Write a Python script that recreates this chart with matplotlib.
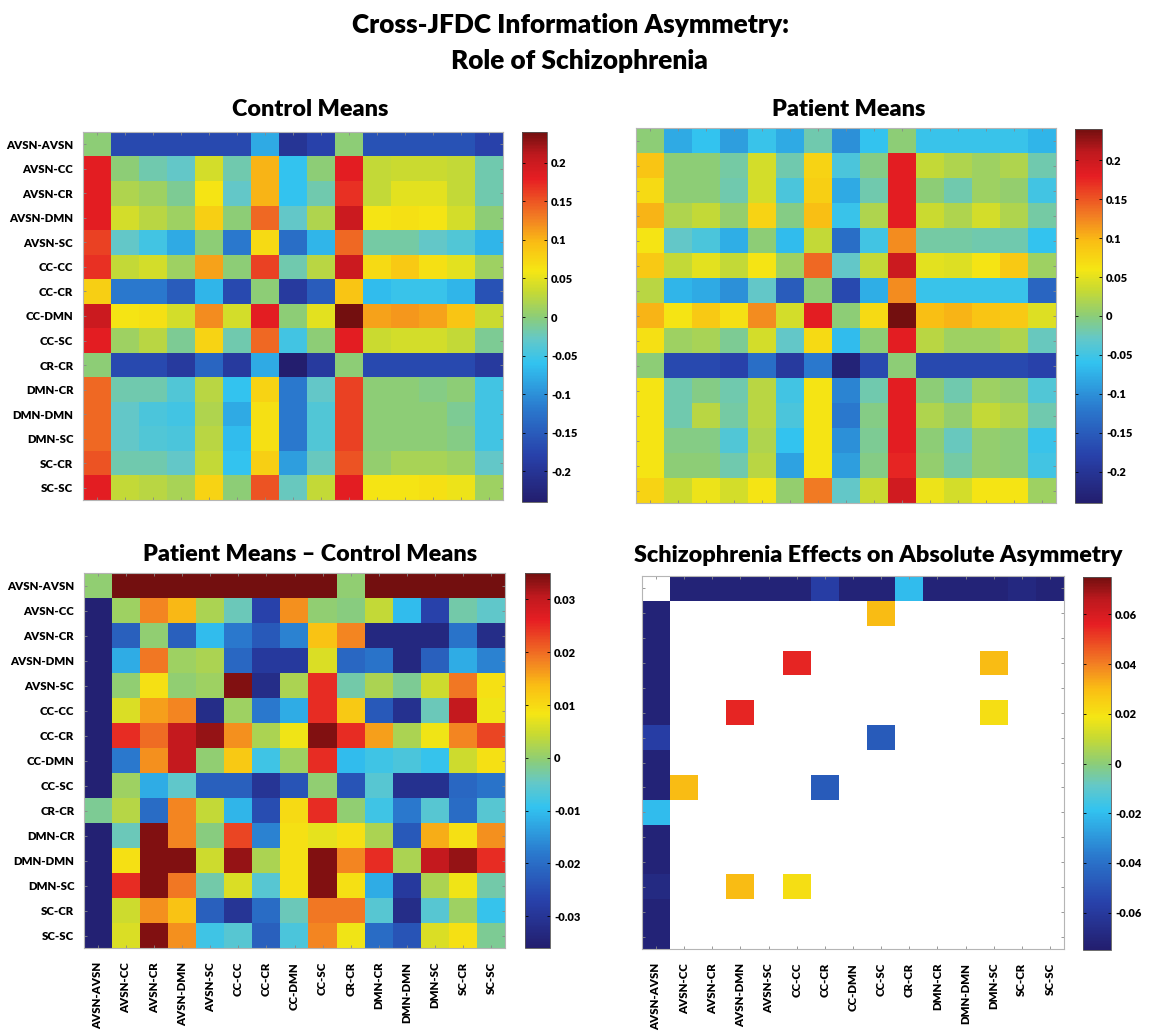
import numpy as np
import matplotlib
matplotlib.use("Agg")
import matplotlib.pyplot as plt
from matplotlib.colors import LinearSegmentedColormap

# ---------------- data ----------------
labels = ["AVSN-AVSN", "AVSN-CC", "AVSN-CR", "AVSN-DMN", "AVSN-SC", "CC-CC", "CC-CR",
          "CC-DMN", "CC-SC", "CR-CR", "DMN-CR", "DMN-DMN", "DMN-SC", "SC-CR", "SC-SC"]

control_means = [
    [0.0, -0.17, -0.17, -0.17, -0.17, -0.17, -0.08, -0.20, -0.18, 0.0, -0.16, -0.16, -0.16, -0.16, -0.18],
    [0.18, 0.0, -0.02, -0.03, 0.04, -0.02, 0.10, -0.06, 0.0, 0.18, 0.03, 0.035, 0.035, 0.03, -0.02],
    [0.18, 0.02, 0.01, -0.01, 0.06, -0.03, 0.10, -0.06, -0.02, 0.17, 0.03, 0.05, 0.05, 0.03, -0.02],
    [0.18, 0.04, 0.025, 0.01, 0.08, 0.0, 0.14, -0.03, 0.02, 0.20, 0.06, 0.065, 0.06, 0.04, 0.0],
    [0.16, -0.03, -0.05, -0.08, 0.0, -0.12, 0.07, -0.13, -0.07, 0.14, -0.015, -0.015, -0.03, -0.04, -0.07],
    [0.17, 0.03, 0.04, 0.01, 0.11, 0.0, 0.16, -0.02, 0.025, 0.20, 0.07, 0.085, 0.065, 0.05, 0.01],
    [0.08, -0.12, -0.12, -0.15, -0.07, -0.17, 0.0, -0.19, -0.15, 0.09, -0.065, -0.055, -0.055, -0.07, -0.16],
    [0.20, 0.06, 0.065, 0.04, 0.12, 0.04, 0.18, 0.0, 0.05, 0.24, 0.11, 0.115, 0.11, 0.09, 0.035],
    [0.18, 0.01, 0.025, -0.01, 0.075, -0.02, 0.14, -0.05, 0.0, 0.18, 0.035, 0.04, 0.04, 0.03, -0.01],
    [0.0, -0.17, -0.17, -0.19, -0.14, -0.19, -0.08, -0.24, -0.19, 0.0, -0.17, -0.17, -0.17, -0.17, -0.19],
    [0.14, -0.02, -0.02, -0.04, 0.025, -0.06, 0.075, -0.12, -0.03, 0.16, 0.0, 0.0, -0.005, 0.0, -0.05],
    [0.14, -0.03, -0.045, -0.05, 0.02, -0.08, 0.065, -0.12, -0.04, 0.16, 0.0, 0.0, 0.0, -0.01, -0.05],
    [0.14, -0.03, -0.04, -0.045, 0.025, -0.065, 0.065, -0.12, -0.04, 0.16, 0.0, 0.0, 0.0, -0.005, -0.05],
    [0.15, -0.02, -0.02, -0.03, 0.03, -0.06, 0.08, -0.09, -0.025, 0.15, 0.005, 0.015, 0.015, 0.01, -0.03],
    [0.18, 0.03, 0.025, 0.015, 0.075, 0.0, 0.15, -0.025, 0.03, 0.18, 0.06, 0.06, 0.065, 0.055, 0.01],
]

patient_means = [
    [0.0, -0.08, -0.06, -0.09, -0.055, -0.08, -0.02, -0.10, -0.06, 0.0, -0.055, -0.055, -0.055, -0.055, -0.07],
    [0.09, 0.0, 0.0, -0.015, 0.04, -0.02, 0.075, -0.045, -0.005, 0.18, 0.03, 0.02, 0.01, 0.02, -0.02],
    [0.07, 0.0, 0.0, -0.02, 0.04, -0.045, 0.08, -0.08, -0.02, 0.18, 0.0, -0.02, 0.01, 0.005, -0.05],
    [0.10, 0.02, 0.03, 0.005, 0.075, -0.005, 0.095, -0.055, 0.02, 0.18, 0.035, 0.02, 0.04, 0.02, -0.015],
    [0.06, -0.03, -0.045, -0.075, 0.0, -0.065, 0.03, -0.13, -0.05, 0.12, -0.015, -0.015, -0.02, -0.02, -0.06],
    [0.085, 0.03, 0.05, 0.03, 0.06, 0.01, 0.14, -0.03, 0.03, 0.20, 0.05, 0.045, 0.06, 0.085, 0.01],
    [0.025, -0.07, -0.08, -0.10, -0.03, -0.15, 0.0, -0.17, -0.075, 0.12, -0.055, -0.055, -0.055, -0.055, -0.14],
    [0.10, 0.06, 0.085, 0.065, 0.12, 0.04, 0.18, 0.0, 0.07, 0.24, 0.095, 0.10, 0.09, 0.085, 0.045],
    [0.065, 0.01, 0.015, -0.01, 0.04, -0.03, 0.07, -0.065, 0.0, 0.18, 0.025, 0.01, 0.01, 0.02, -0.025],
    [0.0, -0.17, -0.17, -0.18, -0.13, -0.19, -0.12, -0.23, -0.17, 0.0, -0.17, -0.17, -0.17, -0.17, -0.18],
    [0.06, -0.02, -0.005, -0.02, 0.025, -0.05, 0.06, -0.11, -0.02, 0.18, 0.0, -0.02, 0.01, 0.005, -0.04],
    [0.06, -0.02, 0.025, -0.015, 0.025, -0.045, 0.06, -0.12, -0.005, 0.18, 0.02, 0.005, 0.03, 0.02, -0.02],
    [0.06, -0.005, -0.005, -0.04, 0.02, -0.06, 0.06, -0.10, -0.01, 0.18, 0.0, -0.025, 0.005, 0.0, -0.055],
    [0.06, 0.0, 0.0, -0.02, 0.025, -0.085, 0.06, -0.09, -0.005, 0.175, 0.005, -0.015, 0.005, 0.0, -0.05],
    [0.075, 0.035, 0.055, 0.04, 0.06, 0.005, 0.13, -0.03, 0.035, 0.195, 0.055, 0.04, 0.06, 0.06, 0.01],
]

diff_means = [
    [0.0, 0.035, 0.035, 0.035, 0.035, 0.035, 0.035, 0.035, 0.035, 0.0, 0.035, 0.035, 0.035, 0.035, 0.035],
    [-0.035, 0.001, 0.018, 0.014, 0.002, -0.004, -0.027, 0.017, 0.0, -0.001, 0.004, -0.01, -0.027, -0.003, -0.005],
    [-0.035, -0.022, 0.0, -0.022, -0.01, -0.018, -0.023, -0.017, 0.013, 0.018, -0.033, -0.033, -0.033, -0.019, -0.032],
    [-0.035, -0.012, 0.019, 0.001, 0.002, -0.021, -0.029, -0.029, 0.006, -0.021, -0.019, -0.033, -0.022, -0.012, -0.017],
    [-0.035, 0.0, 0.009, 0.0, 0.001, 0.034, -0.032, 0.002, 0.025, -0.003, 0.002, -0.002, 0.005, 0.019, 0.009],
    [-0.035, 0.006, 0.016, 0.018, -0.032, 0.001, -0.018, -0.012, 0.025, 0.012, -0.023, -0.031, -0.004, 0.03, 0.008],
    [-0.035, 0.025, 0.02, 0.03, 0.033, 0.017, 0.002, 0.008, 0.034, 0.025, 0.016, 0.002, 0.008, 0.018, 0.023],
    [-0.035, -0.018, 0.017, 0.03, 0.0, 0.012, -0.008, 0.001, 0.025, -0.01, -0.008, -0.007, -0.009, 0.005, 0.009],
    [-0.035, 0.001, -0.012, -0.005, -0.022, -0.022, -0.03, -0.024, 0.0, -0.024, -0.006, -0.031, -0.031, -0.021, -0.019],
    [-0.002, 0.003, -0.02, 0.018, 0.004, -0.011, -0.025, 0.01, 0.025, 0.0, -0.008, -0.018, -0.006, -0.02, -0.006],
    [-0.035, -0.004, 0.034, 0.018, -0.001, 0.023, -0.017, 0.009, 0.007, 0.009, 0.002, -0.023, 0.015, 0.009, 0.017],
    [-0.035, 0.009, 0.034, 0.034, 0.005, 0.033, 0.002, 0.009, 0.034, 0.018, 0.025, 0.002, 0.03, 0.033, 0.025],
    [-0.035, 0.025, 0.034, 0.019, -0.003, 0.006, -0.006, 0.009, 0.034, 0.009, -0.012, -0.029, 0.002, 0.008, -0.003],
    [-0.035, 0.005, 0.017, 0.013, -0.022, -0.03, -0.02, -0.004, 0.019, 0.019, -0.006, -0.032, -0.006, 0.001, -0.009],
    [-0.035, 0.006, 0.034, 0.017, -0.008, -0.006, -0.022, -0.007, 0.018, 0.008, -0.02, -0.024, 0.006, 0.009, -0.002],
]

# Schizophrenia effects: only significant cells are shown (others blank)
effects_row0 = [-0.072, -0.072, -0.072, -0.072, -0.072, -0.058, -0.072, -0.072, -0.02,
                -0.072, -0.072, -0.072, -0.069, -0.072]          # AVSN-AVSN row, columns 1..14
effects_col0 = [-0.072, -0.072, -0.072, -0.072, -0.072, -0.058, -0.072, -0.072, -0.02,
                -0.072, -0.072, -0.068, -0.072, -0.072]          # AVSN-AVSN column, rows 1..14
effects_rows = [1, 3, 3, 5, 5, 6, 8, 8, 12, 12]
effects_cols = [8, 5, 12, 3, 12, 8, 1, 6, 3, 5]
effects_vals = [0.03, 0.055, 0.03, 0.055, 0.021, -0.047, 0.03, -0.047, 0.03, 0.021]

cb_ticks_means = [0.2, 0.15, 0.1, 0.05, 0.0, -0.05, -0.1, -0.15, -0.2]
cb_labels_means = ["0.2", "0.15", "0.1", "0.05", "0", "-0.05", "-0.1", "-0.15", "-0.2"]
cb_ticks_diff = [0.03, 0.02, 0.01, 0.0, -0.01, -0.02, -0.03]
cb_labels_diff = ["0.03", "0.02", "0.01", "0", "-0.01", "-0.02", "-0.03"]
cb_ticks_eff = [0.06, 0.04, 0.02, 0.0, -0.02, -0.04, -0.06]
cb_labels_eff = ["0.06", "0.04", "0.02", "0", "-0.02", "-0.04", "-0.06"]

main_title = ["Cross-JFDC Information Asymmetry:", "Role of Schizophrenia"]
panel_titles = ["Control Means", "Patient Means", "Patient Means \u2013 Control Means",
                "Schizophrenia Effects on Absolute Asymmetry"]

# ---------------- style ----------------
plt.rcParams["font.family"] = ["Lato", "DejaVu Sans"]
W, H = 1149, 1036
fig = plt.figure(figsize=(W / 100, H / 100), dpi=100)
renderer = fig.canvas.get_renderer()
HEAVY = "heavy"

anchors = [(0.0, (35, 30, 110)), (0.125, (40, 65, 170)), (0.25, (42, 120, 205)),
           (0.375, (50, 195, 240)), (0.44, (100, 200, 200)), (0.5, (140, 205, 120)),
           (0.57, (200, 218, 50)), (0.625, (245, 230, 20)), (0.7, (250, 190, 20)),
           (0.77, (242, 125, 35)), (0.875, (230, 30, 35)), (0.94, (190, 25, 30)),
           (1.0, (115, 15, 15))]
cmap = LinearSegmentedColormap.from_list(
    "jetsoft", [(p, tuple(c / 255 for c in rgb)) for p, rgb in anchors], N=256)
cmap.set_bad("white")


def px_axes(x0, y0, x1, y1):
    return fig.add_axes([x0 / W, 1 - y1 / H, (x1 - x0) / W, (y1 - y0) / H])


def text_width(s, size, **kw):
    t = fig.text(0, 0, s, fontsize=size, **kw)
    w = t.get_window_extent(renderer=renderer).width
    t.remove()
    return w


lab_fs = 10 * 67 / text_width("AVSN-AVSN", 10, fontweight=HEAVY)
ttl_fs = 10 * 335 / text_width(panel_titles[2], 10, fontweight=HEAVY)
main_fs = 10 * 439 / text_width(main_title[0], 10, fontweight=HEAVY)


def heat(box, cbox, data, vmin, vmax, ticks, ticklabels, ylab, xlab):
    ax = px_axes(*box)
    arr = np.ma.masked_invalid(np.array(data, dtype=float))
    im = ax.imshow(arr, cmap=cmap, vmin=vmin, vmax=vmax, aspect="auto",
                   interpolation="nearest")
    ax.set_xticks(range(len(labels)))
    ax.set_yticks(range(len(labels)))
    ax.tick_params(direction="in", length=2.5, width=0.6, color="#888888",
                   top=True, right=True)
    if ylab:
        ax.set_yticklabels(labels, fontsize=lab_fs, fontweight=HEAVY)
        ax.tick_params(axis="y", pad=7)
    else:
        ax.set_yticklabels([])
    if xlab:
        ax.set_xticklabels(labels, fontsize=lab_fs, fontweight=HEAVY, rotation=90)
        ax.tick_params(axis="x", pad=10)
    else:
        ax.set_xticklabels([])
    for s in ax.spines.values():
        s.set_color("#b5b5b5")
        s.set_linewidth(0.8)
    cax = px_axes(*cbox)
    cb = fig.colorbar(im, cax=cax)
    cb.set_ticks(ticks)
    cb.set_ticklabels(ticklabels)
    cax.tick_params(direction="in", length=2.5, width=0.6, left=True, right=True,
                    labelsize=8, pad=3)
    for lab in cax.get_yticklabels():
        lab.set_fontweight(HEAVY)
    cb.outline.set_linewidth(0.6)
    cb.outline.set_edgecolor("#555555")
    return ax


# effects matrix assembled from the sparse lists
n = len(labels)
effects = np.full((n, n), np.nan)
effects[0, 1:] = effects_row0
effects[1:, 0] = effects_col0
for r, c, v in zip(effects_rows, effects_cols, effects_vals):
    effects[r, c] = v

heat((83, 132, 503, 500), (522, 132, 547, 502), control_means, -0.24, 0.24,
     cb_ticks_means, cb_labels_means, True, False)
heat((636, 128, 1056, 503), (1075, 129, 1102, 503), patient_means, -0.24, 0.24,
     cb_ticks_means, cb_labels_means, False, False)
heat((84, 573, 505, 948), (525, 573, 550, 948), diff_means, -0.036, 0.035,
     cb_ticks_diff, cb_labels_diff, True, True)
heat((642, 576, 1064, 949), (1083, 577, 1111, 950), effects, -0.075, 0.075,
     cb_ticks_eff, cb_labels_eff, False, True)

# titles
def ftext(x, y, s, size):
    fig.text(x / W, 1 - y / H, s, ha="center", va="baseline", fontsize=size,
             fontweight=HEAVY)

ftext(570, 33, main_title[0], main_fs)
ftext(579, 69, main_title[1], main_fs)
ftext(310, 116, panel_titles[0], ttl_fs)
ftext(849, 116, panel_titles[1], ttl_fs)
ftext(310, 561, panel_titles[2], ttl_fs)
ftext(878, 562, panel_titles[3], ttl_fs)

fig.savefig("out.png", dpi=100, facecolor="white")
